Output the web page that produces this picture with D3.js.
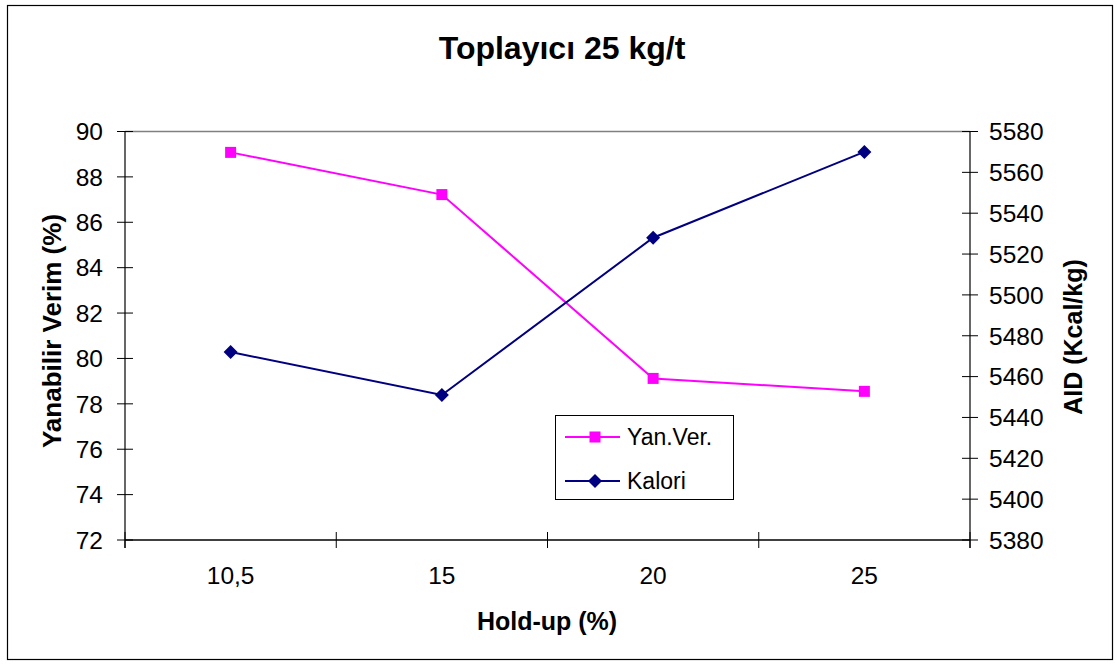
<!DOCTYPE html>
<html>
<head>
<meta charset="utf-8">
<script src="https://cdn.jsdelivr.net/npm/d3@7"></script>
<style>
  html, body { margin: 0; padding: 0; background: #fff; }
  svg { display: block; font-family: "Liberation Sans", Arial, sans-serif; }
</style>
</head>
<body>
<svg id="chart" width="1117" height="664"></svg>
<script>
// Hold-up levels on the category axis
const categories = ["10,5", "15", "20", "25"];
// Yanabilir verim (%) – left axis
const yanVer = [89.08, 87.22, 79.12, 78.55];
// AID (Kcal/kg) – right axis
const kalori = [5472, 5451, 5528, 5570];
const leftTicks = [72, 74, 76, 78, 80, 82, 84, 86, 88, 90];
const rightTicks = [5380, 5400, 5420, 5440, 5460, 5480, 5500, 5520, 5540, 5560, 5580];

const svg = d3.select("#chart");
const m = { left: 125, right: 970, top: 131.5, bottom: 540 };
const tickFont = 24.5;

// outer frame
svg.append("rect").attr("x", 7.5).attr("y", 5.5).attr("width", 1105).attr("height", 654)
  .attr("fill", "#fff").attr("stroke", "#000").attr("stroke-width", 1.2);

const x = d3.scaleBand().domain(categories).range([m.left, m.right]);
const yL = d3.scaleLinear().domain([72, 90]).range([m.bottom, m.top]);
const yR = d3.scaleLinear().domain([5380, 5580]).range([m.bottom, m.top]);

// top border of plot area
svg.append("line").attr("x1", m.left).attr("x2", m.right).attr("y1", m.top).attr("y2", m.top)
  .attr("stroke", "#808080").attr("stroke-width", 1.5);

const tickLen = 8;
// left axis
const gL = svg.append("g");
gL.append("line").attr("x1", m.left).attr("x2", m.left).attr("y1", m.top).attr("y2", m.bottom + tickLen)
  .attr("stroke", "#000").attr("stroke-width", 1.2);
leftTicks.forEach(t => {
  gL.append("line").attr("x1", m.left - tickLen).attr("x2", m.left + tickLen)
    .attr("y1", yL(t)).attr("y2", yL(t)).attr("stroke", "#000").attr("stroke-width", 1);
  gL.append("text").attr("x", m.left - 22).attr("y", yL(t)).attr("dy", "0.36em")
    .attr("text-anchor", "end").attr("font-size", tickFont).text(t);
});

// right axis
const gR = svg.append("g");
gR.append("line").attr("x1", m.right).attr("x2", m.right).attr("y1", m.top).attr("y2", m.bottom + tickLen)
  .attr("stroke", "#000").attr("stroke-width", 1.2);
rightTicks.forEach(t => {
  gR.append("line").attr("x1", m.right - tickLen).attr("x2", m.right + tickLen)
    .attr("y1", yR(t)).attr("y2", yR(t)).attr("stroke", "#000").attr("stroke-width", 1);
  gR.append("text").attr("x", m.right + 19).attr("y", yR(t)).attr("dy", "0.36em")
    .attr("text-anchor", "start").attr("font-size", tickFont).text(t);
});

// bottom axis
const gB = svg.append("g");
gB.append("line").attr("x1", m.left).attr("x2", m.right).attr("y1", m.bottom).attr("y2", m.bottom)
  .attr("stroke", "#000").attr("stroke-width", 1.5);
const bounds = categories.map(c => x(c)).concat([x(categories[categories.length - 1]) + x.bandwidth()]);
bounds.forEach(b => {
  gB.append("line").attr("x1", b).attr("x2", b).attr("y1", m.bottom - tickLen).attr("y2", m.bottom + tickLen)
    .attr("stroke", "#000").attr("stroke-width", 1);
});
categories.forEach(c => {
  gB.append("text").attr("x", x(c) + x.bandwidth() / 2).attr("y", 584)
    .attr("text-anchor", "middle").attr("font-size", tickFont).text(c);
});

const cx = c => x(c) + x.bandwidth() / 2;
const diamondPath = "M0,-7L7,0L0,7L-7,0Z";

// Yan.Ver. series
const pink = "#ff00ff";
svg.append("path").datum(yanVer)
  .attr("d", d3.line().x((d, i) => cx(categories[i])).y(d => yL(d)))
  .attr("fill", "none").attr("stroke", pink).attr("stroke-width", 2);
svg.selectAll(".sq").data(yanVer).enter().append("rect")
  .attr("x", (d, i) => cx(categories[i]) - 5.5).attr("y", d => yL(d) - 5.5)
  .attr("width", 11).attr("height", 11).attr("fill", pink);

// Kalori series
const navy = "#000080";
svg.append("path").datum(kalori)
  .attr("d", d3.line().x((d, i) => cx(categories[i])).y(d => yR(d)))
  .attr("fill", "none").attr("stroke", navy).attr("stroke-width", 2);
svg.selectAll(".dm").data(kalori).enter().append("path")
  .attr("transform", (d, i) => `translate(${cx(categories[i])},${yR(d)})`)
  .attr("d", diamondPath).attr("fill", navy);

// legend
const lg = svg.append("g");
lg.append("rect").attr("x", 555.5).attr("y", 415.5).attr("width", 178).attr("height", 84)
  .attr("fill", "#fff").attr("stroke", "#000").attr("stroke-width", 1);
lg.append("line").attr("x1", 565).attr("x2", 620).attr("y1", 437).attr("y2", 437)
  .attr("stroke", pink).attr("stroke-width", 2);
lg.append("rect").attr("x", 589.5).attr("y", 431.5).attr("width", 11).attr("height", 11).attr("fill", pink);
lg.append("text").attr("x", 627).attr("y", 437).attr("dy", "0.36em").attr("font-size", 23).text("Yan.Ver.");
lg.append("line").attr("x1", 565).attr("x2", 620).attr("y1", 481).attr("y2", 481)
  .attr("stroke", navy).attr("stroke-width", 2);
lg.append("path").attr("transform", "translate(595,481)").attr("d", diamondPath).attr("fill", navy);
lg.append("text").attr("x", 627).attr("y", 481).attr("dy", "0.36em").attr("font-size", 23).text("Kalori");

// titles
svg.append("text").attr("x", 562).attr("y", 59).attr("text-anchor", "middle")
  .attr("font-size", 32).attr("font-weight", "bold").text("Toplayıcı 25 kg/t");
svg.append("text").attr("x", 547).attr("y", 630).attr("text-anchor", "middle")
  .attr("font-size", 25).attr("font-weight", "bold").text("Hold-up (%)");
svg.append("text").attr("transform", "translate(61,331) rotate(-90)").attr("text-anchor", "middle")
  .attr("font-size", 26).attr("font-weight", "bold").text("Yanabilir Verim (%)");
svg.append("text").attr("transform", "translate(1082,337) rotate(-90)").attr("text-anchor", "middle")
  .attr("font-size", 25).attr("font-weight", "bold").text("AID (Kcal/kg)");
</script>
</body>
</html>
